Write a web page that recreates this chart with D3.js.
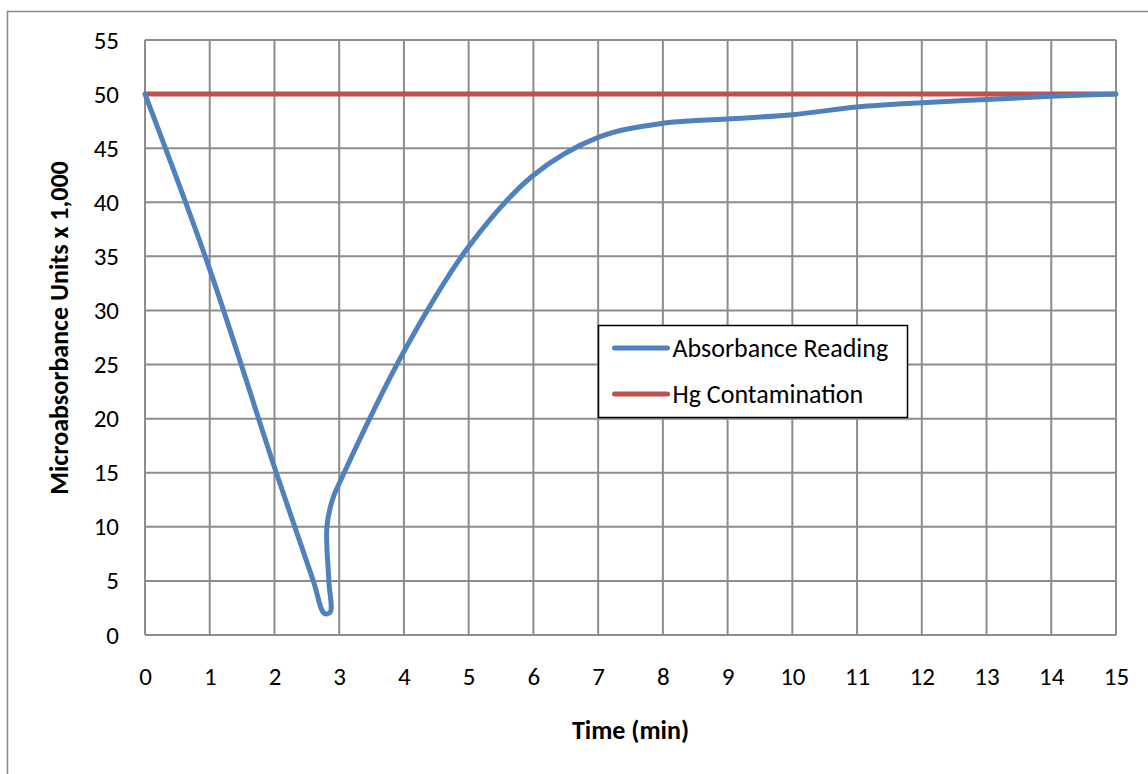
<html>
<head>
    <script src="https://d3js.org/d3.v7.min.js"></script>
    <style>
        body { margin: 0; background: #fff; }
        text { font-family: Carlito, Calibri, "Open Sans", sans-serif; fill: #000; }
    </style>
</head>
<body>
    <svg id="chart" width="1148" height="774"></svg>
    <script>
        // time (min) and absorbance readings
        const absTime = [0, 1, 2, 2.6, 2.77, 2.86, 2.84, 2.81, 2.9, 3, 4, 5, 6, 7, 8, 9, 10, 11, 12, 13, 14, 15]
        const absValue = [50, 33.8, 15.5, 5, 2, 2.1, 5, 10, 12.6, 14, 26.2, 35.9, 42.5, 46, 47.3, 47.7, 48.1, 48.8, 49.2, 49.5, 49.8, 50]
        const hgTime = [0, 15]
        const hgValue = [50, 50]
        const seriesNames = ["Absorbance Reading", "Hg Contamination"]
        const seriesColors = ["#4F81BD", "#C0504D"]
        const xTicks = d3.range(0, 16, 1)
        const yTicks = d3.range(0, 56, 5)

        const svg = d3.select("#chart")
        const margin = { left: 145, top: 40, right: 32, bottom: 139 }
        const width = 1148 - margin.left - margin.right
        const height = 774 - margin.top - margin.bottom

        // outer chart border
        svg.append("rect")
            .attr("x", 7.5).attr("y", 11.5)
            .attr("width", 1160).attr("height", 800)
            .style("fill", "none").style("stroke", "#888").style("stroke-width", 1.5)

        const g = svg.append("g").attr("transform", `translate(${margin.left},${margin.top})`)

        const x = d3.scaleLinear().domain([0, 15]).range([0, width])
        const y = d3.scaleLinear().domain([0, 55]).range([height, 0])

        // gridlines
        g.append("g").selectAll("line").data(xTicks).join("line")
            .attr("x1", d => x(d)).attr("x2", d => x(d))
            .attr("y1", 0).attr("y2", height)
            .style("stroke", "#8c8c8c").style("stroke-width", 2)
        g.append("g").selectAll("line").data(yTicks).join("line")
            .attr("x1", 0).attr("x2", width)
            .attr("y1", d => y(d)).attr("y2", d => y(d))
            .style("stroke", "#8c8c8c").style("stroke-width", 2)

        // tick labels
        const xAxis = g.append("g").attr("transform", `translate(0,${height})`)
            .call(d3.axisBottom(x).tickValues(xTicks).tickSize(0).tickPadding(32))
        const yAxis = g.append("g")
            .call(d3.axisLeft(y).tickValues(yTicks).tickSize(0).tickPadding(26))
        for (const ax of [xAxis, yAxis]) {
            ax.select(".domain").remove()
            ax.selectAll("text").style("font-size", "25px")
                .style("font-family", 'Carlito, Calibri, "Open Sans", sans-serif')
        }

        // axis titles
        svg.append("text")
            .attr("x", margin.left + width / 2).attr("y", 739)
            .attr("text-anchor", "middle")
            .style("font-size", "26px").style("font-weight", "bold")
            .text("Time (min)")
        svg.append("text")
            .attr("transform", "translate(68,328) rotate(-90)")
            .attr("text-anchor", "middle")
            .style("font-size", "26px").style("font-weight", "bold")
            .text("Microabsorbance Units x 1,000")

        // series
        const absData = absTime.map((t, i) => [t, absValue[i]])
        const hgData = hgTime.map((t, i) => [t, hgValue[i]])

        g.append("path").datum(hgData)
            .attr("d", d3.line().x(d => x(d[0])).y(d => y(d[1])))
            .style("fill", "none").style("stroke", seriesColors[1]).style("stroke-width", 5)

        g.append("path").datum(absData)
            .attr("d", d3.line().curve(d3.curveCatmullRom.alpha(0.5)).x(d => x(d[0])).y(d => y(d[1])))
            .style("fill", "none").style("stroke", seriesColors[0]).style("stroke-width", 5)
            .style("stroke-linecap", "round").style("stroke-linejoin", "round")

        // legend
        const legend = svg.append("g").attr("transform", "translate(598.5,325.5)")
        legend.append("rect")
            .attr("width", 309).attr("height", 92)
            .style("fill", "#fff").style("stroke", "#000").style("stroke-width", 1.5)
        seriesNames.forEach((name, i) => {
            const row = legend.append("g").attr("transform", `translate(0,${22.5 + i * 46})`)
            row.append("line")
                .attr("x1", 16).attr("x2", 69)
                .style("stroke", seriesColors[i]).style("stroke-width", 5).style("stroke-linecap", "round")
            row.append("text")
                .attr("x", 74).attr("y", 9)
                .style("font-size", "26px")
                .text(name)
        })
    </script>
</body>
</html>
